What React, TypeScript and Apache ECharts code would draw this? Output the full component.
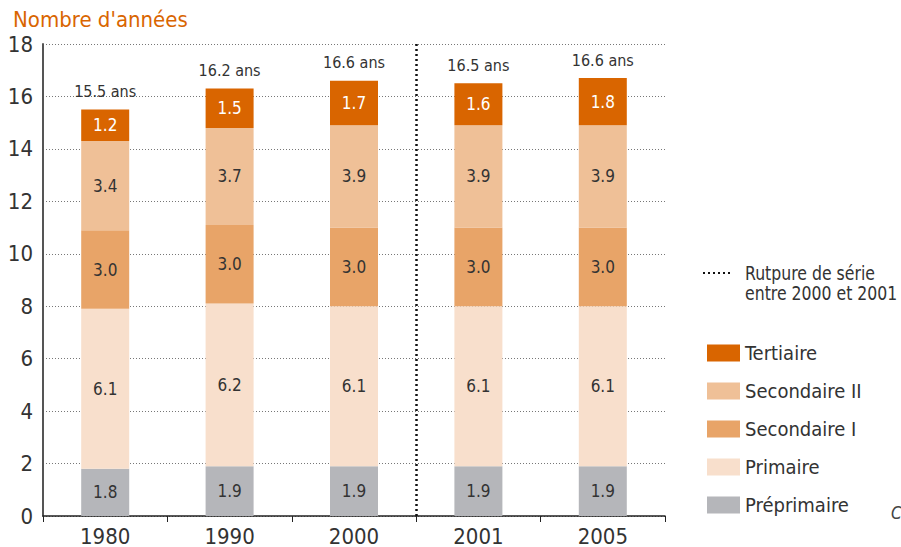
import React, { useEffect, useRef } from "react";
import * as echarts from "echarts";

const years = ["1980", "1990", "2000", "2001", "2005"];
const preprimaire = [1.8, 1.9, 1.9, 1.9, 1.9];
const primaire = [6.1, 6.2, 6.1, 6.1, 6.1];
const secondaireI = [3.0, 3.0, 3.0, 3.0, 3.0];
const secondaireII = [3.4, 3.7, 3.9, 3.9, 3.9];
const tertiaire = [1.2, 1.5, 1.7, 1.6, 1.8];
const totals = [15.5, 16.2, 16.6, 16.5, 16.6];
const yTicks = [0, 2, 4, 6, 8, 10, 12, 14, 16, 18];

const FONT = "'DejaVu Sans', sans-serif";

export default function App() {
  const ref = useRef<HTMLDivElement>(null);
  useEffect(() => {
    if (!ref.current) return;
    const chart = echarts.init(ref.current, null, { renderer: "svg" });
    const mk = (name: string, data: number[], color: string, labelColor: string) => ({
      name,
      type: "bar",
      stack: "total",
      data,
      barWidth: 48,
      itemStyle: { color },
      label: {
        show: true,
        position: "inside",
        color: labelColor,
        fontFamily: FONT,
        fontSize: 17,
        formatter: (p: any) => Number(p.value).toFixed(1),
      },
    });
    chart.setOption({
      animation: false,
      textStyle: { fontFamily: FONT },
      grid: { left: 43, right: 236, top: 44, bottom: 31 },
      xAxis: [
        {
          type: "category",
          data: years,
          axisLine: { lineStyle: { color: "#222", width: 1.5 } },
          axisTick: { show: true, length: 6, lineStyle: { color: "#222" } },
          axisLabel: { color: "#333", fontSize: 22, fontFamily: FONT, margin: 9 },
        },
        { type: "value", min: 0, max: 5, show: false },
      ],
      yAxis: {
        type: "value",
        min: yTicks[0],
        max: yTicks[yTicks.length - 1],
        interval: 2,
        axisLine: { show: true, lineStyle: { color: "#555", width: 2 } },
        axisTick: { show: false },
        axisLabel: { color: "#333", fontSize: 22, fontFamily: FONT, margin: 10 },
        splitLine: { lineStyle: { color: "#777", type: [1, 2], width: 1 } },
      },
      legend: {
        orient: "vertical",
        left: 702,
        top: 338,
        itemWidth: 33,
        itemHeight: 17,
        itemGap: 18,
        icon: "rect",
        textStyle: { color: "#333", fontSize: 20, fontFamily: FONT, padding: [0, 0, 0, 0] },
        data: ["Tertiaire", "Secondaire II", "Secondaire I", "Primaire", "Préprimaire"],
      },
      series: [
        mk("Préprimaire", preprimaire, "#B5B6BA", "#333"),
        mk("Primaire", primaire, "#F8DFCC", "#333"),
        mk("Secondaire I", secondaireI, "#E8A468", "#333"),
        mk("Secondaire II", secondaireII, "#EFC097", "#333"),
        mk("Tertiaire", tertiaire, "#D96500", "#fff"),
        {
          name: "totaux",
          type: "bar",
          stack: "total",
          data: totals.map(() => 0),
          barWidth: 48,
          itemStyle: { color: "transparent" },
          label: {
            show: true,
            position: "top",
            distance: 10,
            color: "#333",
            fontFamily: FONT,
            fontSize: 16,
            formatter: (p: any) => totals[p.dataIndex].toFixed(1) + " ans",
          },
        },
        {
          name: "rupture",
          type: "line",
          xAxisIndex: 1,
          data: [],
          markLine: {
            silent: true,
            symbol: "none",
            label: { show: false },
            lineStyle: { color: "#111", type: [2, 3], width: 2.5 },
            data: [{ xAxis: 3 }],
          },
        },
      ],
      graphic: [
        {
          type: "text",
          left: 13,
          top: 8,
          style: { text: "Nombre d'années", fill: "#D96500", fontSize: 22, fontFamily: FONT },
        },
        {
          type: "line",
          shape: { x1: 703, y1: 273, x2: 733, y2: 273 },
          style: { stroke: "#111", lineWidth: 2, lineDash: [2, 3] },
        },
        {
          type: "text",
          x: 745,
          y: 273,
          scaleX: 0.92,
          style: {
            text: "Rutpure de série",
            fill: "#333",
            fontSize: 19,
            fontFamily: FONT,
            verticalAlign: "middle",
          },
        },
        {
          type: "text",
          x: 745,
          y: 293,
          scaleX: 0.92,
          style: {
            text: "entre 2000 et 2001",
            fill: "#333",
            fontSize: 19,
            fontFamily: FONT,
            verticalAlign: "middle",
          },
        },
        {
          type: "text",
          left: 891,
          top: 504,
          style: { text: "C", fill: "#444", fontSize: 17, fontStyle: "italic", fontFamily: FONT },
        },
      ],
    });
    return () => chart.dispose();
  }, []);
  return (
    <>
      <style>{`.chart-root svg text { font-stretch: condensed !important; }`}</style>
      <div
        ref={ref}
        className="chart-root"
        style={{ position: "absolute", left: 0, top: 0, width: 901, height: 547, background: "#fff" }}
      />
    </>
  );
}
